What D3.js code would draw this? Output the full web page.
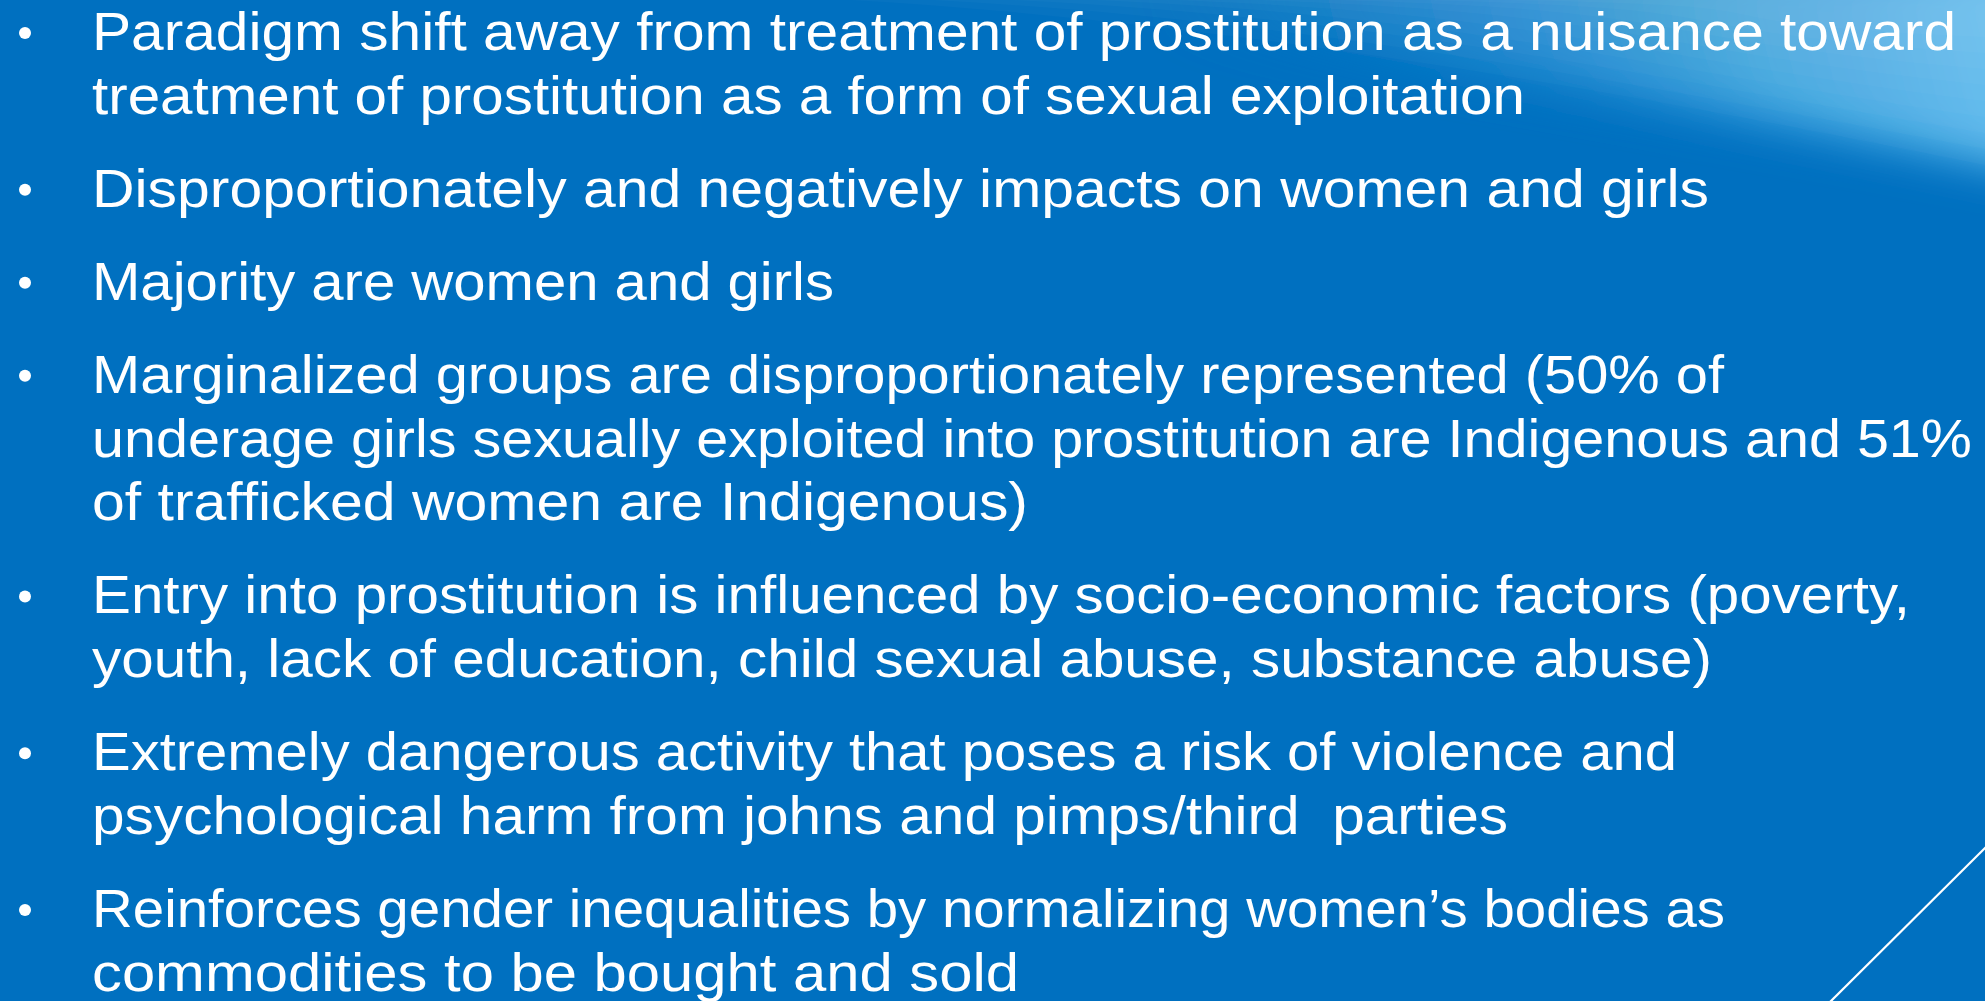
<!DOCTYPE html>
<html><head><meta charset="utf-8">
<script src="https://cdn.jsdelivr.net/npm/d3@7"></script>
<style>html,body{margin:0;padding:0;overflow:hidden;background:#0070C0}</style>
</head><body>
<svg id="s" width="1985" height="1001"></svg>
<script>
// Content: bullet items, each split into the lines as they wrap on the slide
const bullet1 = ["Paradigm shift away from treatment of prostitution as a nuisance toward", "treatment of prostitution as a form of sexual exploitation"];
const bullet2 = ["Disproportionately and negatively impacts on women and girls"];
const bullet3 = ["Majority are women and girls"];
const bullet4 = ["Marginalized groups are disproportionately represented (50% of", "underage girls sexually exploited into prostitution are Indigenous and 51%", "of trafficked women are Indigenous)"];
const bullet5 = ["Entry into prostitution is influenced by socio-economic factors (poverty,", "youth, lack of education, child sexual abuse, substance abuse)"];
const bullet6 = ["Extremely dangerous activity that poses a risk of violence and", "psychological harm from johns and pimps/third  parties"];
const bullet7 = ["Reinforces gender inequalities by normalizing women\u2019s bodies as", "commodities to be bought and sold"];
const bullets = [bullet1, bullet2, bullet3, bullet4, bullet5, bullet6, bullet7];

// Layout (measured right edges of each wrapped line, in px)
const lineRight = [1956, 1525, 1709, 834, 1724, 1972, 1028, 1910, 1712, 1677, 1508, 1725, 1019];

const W = 1985, H = 1001;
const svg = d3.select("#s");
const defs = svg.append("defs");
const g1 = defs.append("linearGradient").attr("id","hl").attr("gradientUnits","userSpaceOnUse")
  .attr("x1",1200).attr("y1",170).attr("x2",1985).attr("y2",-20);
g1.append("stop").attr("offset","0").attr("stop-color","#0070C0").attr("stop-opacity",0);
g1.append("stop").attr("offset","0.3").attr("stop-color","#1483CC").attr("stop-opacity",0.7);
g1.append("stop").attr("offset","0.7").attr("stop-color","#3AA2DF").attr("stop-opacity",1);
g1.append("stop").attr("offset","1").attr("stop-color","#5ABAEE").attr("stop-opacity",1);
const blur = defs.append("filter").attr("id","bl").attr("x","-20%").attr("y","-50%").attr("width","140%").attr("height","200%");
blur.append("feGaussianBlur").attr("stdDeviation",22);

svg.append("rect").attr("width",W).attr("height",H).attr("fill","#0070C0");

// light swoosh in top-right
const sw = svg.append("g").attr("filter","url(#bl)");
sw.append("path")
  .attr("d", `M700,-40 C1100,10 1600,90 ${W+60},175 L${W+60},-40 Z`)
  .attr("fill","url(#hl)");
// faint band texture
const bands = d3.range(9);
svg.selectAll("path.band").data(bands).enter().append("path")
  .attr("class","band")
  .attr("d", d => {
    const x0 = 850 + d*80, yR = 165 - d*16;
    return `M${x0},0 C${x0+380},${22 - d*2} ${1620},${yR*0.55} ${W},${yR} L${W},0 Z`;
  })
  .attr("fill","#ffffff").attr("fill-opacity",0.022);

// diagonal line bottom-right
const lx = d3.scaleLinear().domain([0,1]).range([W+2, 1830]);
const ly = d3.scaleLinear().domain([0,1]).range([846, H+1]);
svg.append("line").attr("x1",lx(0)).attr("y1",ly(0)).attr("x2",lx(1)).attr("y2",ly(1))
  .attr("stroke","#ffffff").attr("stroke-width",2.2);

// text layout
const fontSize = 53, lineStep = 63.8, paraStep = 93, firstBase = 50, textX = 92;
let y = firstBase, li = 0;
const tg = svg.append("g").attr("font-family","'Liberation Sans', Arial, sans-serif")
  .attr("fill","#ffffff");
bullets.forEach((lines, bi) => {
  tg.append("circle").attr("cx",25).attr("cy",y-17).attr("r",6).attr("fill","#ffffff");
  lines.forEach((ln, k) => {
    if (k>0) y += lineStep;
    const target = lineRight[li]-textX;
    const t = tg.append("text").attr("x",textX).attr("y",y).attr("font-size",fontSize)
      .attr("style","white-space:pre").text(ln);
    const nat = t.node().getComputedTextLength();
    if (nat > target) t.attr("font-size", fontSize*target/nat);
    t.attr("textLength", target).attr("lengthAdjust","spacingAndGlyphs");
    li++;
  });
  y += paraStep;
});
</script>
</body></html>
